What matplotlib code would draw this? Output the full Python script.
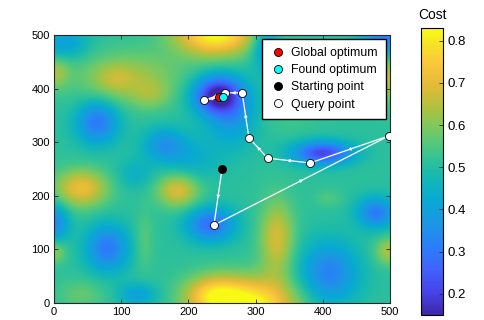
import numpy as np
import matplotlib
matplotlib.use("Agg")
import matplotlib.pyplot as plt
from matplotlib.colors import LinearSegmentedColormap
from matplotlib.lines import Line2D
import matplotlib.ticker as mticker

plt.rcParams['font.family'] = ['Liberation Sans', 'DejaVu Sans']

# ---------------- data ----------------
# cost landscape: base level plus smooth bumps (x, y, sigma_x, sigma_y, amplitude)
base_cost = 0.51
bump_x = [240, 290, 235, 332, 40, 184, 110, 89, 144, 0, 243, 400, 64, 79, 233, 410, 480, 495, 0,
          500, 500, 409, 164, 15, 0, 40, 124, 265, 315, 350, 134, 205, 120]
bump_y = [505, -5, 15, 120, 214, 210, 420, 419, 388, 430, 388, 280, 338, 102, 146, 55, 168, 495, 150,
          96, 420, 196, 295, 485, 95, 15, 15, 350, 480, 335, 115, 270, 240]
bump_sx = [42, 48, 30, 18, 28, 22, 55, 20, 20, 15, 25, 30, 22, 22, 25, 30, 20, 25, 15,
           15, 10, 15, 22, 25, 12, 25, 20, 25, 15, 30, 10, 30, 20]
bump_sy = [30, 35, 25, 50, 25, 22, 35, 18, 18, 20, 25, 15, 28, 30, 22, 40, 20, 25, 25,
           18, 30, 12, 22, 20, 15, 20, 15, 40, 30, 15, 40, 30, 20]
bump_amp = [0.33, 0.33, 0.18, 0.17, 0.20, 0.18, 0.12, 0.05, 0.06, 0.11, -0.36, -0.30, -0.21, -0.21,
            -0.23, -0.19, -0.20, -0.20, -0.17, 0.13, 0.15, 0.04, -0.14, -0.11, 0.10, 0.06, -0.11,
            -0.13, -0.15, 0.02, 0.05, -0.07, -0.06]

start_point = (250, 250)
query_x = [238, 499, 381, 318, 290, 280, 255, 223]
query_y = [145, 312, 261, 270, 308, 392, 392, 378]
found_optimum = (251, 385)
global_optimum = (246, 384)

x_ticks = [0, 100, 200, 300, 400, 500]
y_ticks = [0, 100, 200, 300, 400, 500]
cbar_ticks = [0.2, 0.3, 0.4, 0.5, 0.6, 0.7, 0.8]
vmin, vmax = 0.15, 0.83

# ---------------- colormap (parula-like) ----------------
parula_pts = [
    (0.00, (0.2422, 0.1504, 0.6603)),
    (0.08, (0.2780, 0.2650, 0.9150)),
    (0.16, (0.2500, 0.3900, 0.9950)),
    (0.24, (0.1600, 0.5000, 0.9750)),
    (0.32, (0.1100, 0.5900, 0.8900)),
    (0.40, (0.0300, 0.6600, 0.8300)),
    (0.48, (0.0800, 0.7200, 0.7000)),
    (0.56, (0.2300, 0.7700, 0.5600)),
    (0.64, (0.4500, 0.7900, 0.4000)),
    (0.72, (0.6800, 0.7600, 0.2500)),
    (0.80, (0.8900, 0.7300, 0.2200)),
    (0.88, (0.9900, 0.7800, 0.2300)),
    (0.94, (0.9600, 0.8800, 0.1600)),
    (1.00, (0.9769, 0.9839, 0.0805)),
]
parula = LinearSegmentedColormap.from_list('parula', parula_pts, N=256)

# ---------------- field ----------------
gx = np.linspace(0, 500, 301)
gy = np.linspace(0, 500, 301)
X, Y = np.meshgrid(gx, gy)
Z = np.full_like(X, base_cost)
for cx, cy, sx, sy, a in zip(bump_x, bump_y, bump_sx, bump_sy, bump_amp):
    Z += a * np.exp(-((X - cx) ** 2 / (2 * sx ** 2) + (Y - cy) ** 2 / (2 * sy ** 2)))

# ---------------- figure ----------------
fig = plt.figure(figsize=(4.84, 3.2), dpi=100)
ax = fig.add_axes([0.1116, 0.054, 0.6942, 0.8366])
im = ax.imshow(Z, origin='lower', extent=[0, 500, 0, 500], cmap=parula,
               vmin=vmin, vmax=vmax, interpolation='bilinear', aspect='auto')

# path
path_x = [start_point[0]] + query_x + [found_optimum[0]]
path_y = [start_point[1]] + query_y + [found_optimum[1]]
ax.plot(path_x, path_y, color='white', lw=0.9, zorder=3)
for i in range(len(path_x) - 1):
    x0, y0, x1, y1 = path_x[i], path_y[i], path_x[i + 1], path_y[i + 1]
    mx, my = (x0 + x1) / 2, (y0 + y1) / 2
    dx, dy = (x1 - x0), (y1 - y0)
    n = np.hypot(dx, dy)
    ax.annotate('', xy=(mx + dx / n * 3, my + dy / n * 3), xytext=(mx - dx / n * 3, my - dy / n * 3),
                arrowprops=dict(arrowstyle='-|>', color='white', lw=0, mutation_scale=7,
                                shrinkA=0, shrinkB=0), zorder=4)

ms = 5.8
ax.plot(query_x, query_y, 'o', ms=ms, mfc='white', mec='black', mew=0.6, zorder=5, ls='none')
ax.plot(*start_point, 'o', ms=ms, mfc='black', mec='black', mew=0.6, zorder=5)
ax.plot(*global_optimum, 'o', ms=ms, mfc='red', mec='black', mew=0.6, zorder=6)
ax.plot(*found_optimum, 'o', ms=ms, mfc='cyan', mec='black', mew=0.6, zorder=7)

ax.set_xlim(0, 500)
ax.set_ylim(0, 500)
ax.set_xticks(x_ticks)
ax.set_yticks(y_ticks)
ax.tick_params(direction='in', length=3, width=0.6, labelsize=8, top=True, right=True,
               color='#262626', pad=3)
for s in ax.spines.values():
    s.set_linewidth(0.8)
    s.set_color('#262626')

handles = [
    Line2D([], [], marker='o', ls='none', ms=ms, mfc='red', mec='black', mew=0.6, label='Global optimum'),
    Line2D([], [], marker='o', ls='none', ms=ms, mfc='cyan', mec='black', mew=0.6, label='Found optimum'),
    Line2D([], [], marker='o', ls='none', ms=ms, mfc='black', mec='black', mew=0.6, label='Starting point'),
    Line2D([], [], marker='o', ls='none', ms=ms, mfc='white', mec='black', mew=0.6, label='Query point'),
]
leg = ax.legend(handles=handles, loc='upper right', fontsize=8.8, frameon=True, fancybox=False,
                framealpha=1, edgecolor='black', borderaxespad=0.3, handletextpad=0.5,
                handlelength=1.2, labelspacing=0.42, borderpad=0.7)
leg.get_frame().set_linewidth(1.0)

cax = fig.add_axes([0.869, 0.0156, 0.046, 0.897])
cb = fig.colorbar(im, cax=cax, ticks=cbar_ticks)
cb.ax.tick_params(direction='in', length=3, width=0.6, labelsize=9.5, color='#262626')
cb.outline.set_linewidth(0.8)
cb.ax.yaxis.set_major_formatter(mticker.FormatStrFormatter('%g'))
fig.text(0.894, 0.953, 'Cost', ha='center', va='center', fontsize=10)

fig.savefig('out.png', dpi=100)
